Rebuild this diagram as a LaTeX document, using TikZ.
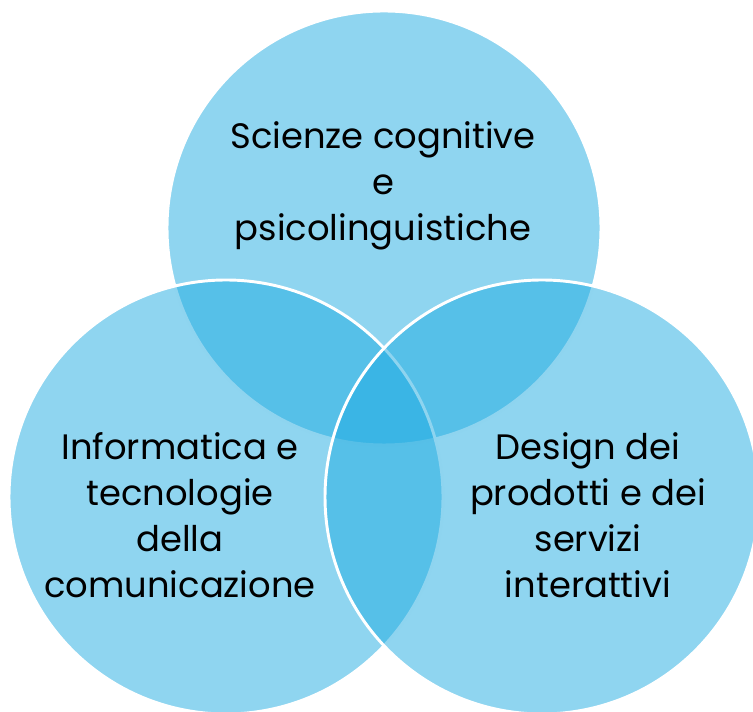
\documentclass[tikz,border=0pt]{standalone}
\usepackage{fontspec}
\setmainfont{Poppins}
\definecolor{vennblue}{RGB}{31,171,225}
\tikzset{
  venn/.style = {fill = vennblue, fill opacity = 0.5, draw = white, line width = 2.2pt},
  venntext/.style = {align = center, text = black, font = \fontsize{26.5}{34.5}\selectfont}
}
\begin{document}
\begin{tikzpicture}[x = 0.75pt, y = 0.75pt]
        \useasboundingbox (0,0) rectangle (753,712);
        % the three sets
        \draw[venn] (384,484) circle[radius = 217];
        \draw[venn] (226,215) circle[radius = 217];
        \draw[venn] (542,215) circle[radius = 217];
        % their names
        \node[venntext] (sci) at (383,526) {Scienze cognitive\\e\\psicolinguistiche};
        \node[venntext] (inf) at (180,197) {Informatica e\\tecnologie\\della\\comunicazione};
        \node[venntext] (des) at (588,197) {Design dei\\prodotti e dei\\servizi\\interattivi};
    \end{tikzpicture}
\end{document}
